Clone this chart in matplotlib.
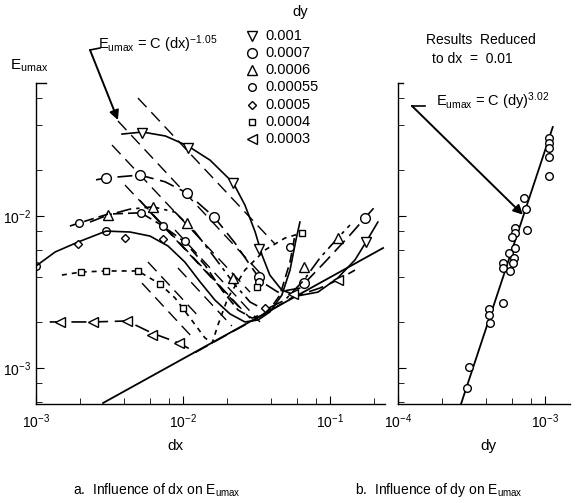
import matplotlib
matplotlib.use('Agg')
import matplotlib.pyplot as plt
from matplotlib.lines import Line2D
from matplotlib.ticker import LogLocator, NullFormatter

plt.rcParams['font.family'] = ['Liberation Sans', 'DejaVu Sans']
plt.rcParams['mathtext.fontset'] = 'custom'
plt.rcParams['mathtext.rm'] = 'Liberation Sans'
plt.rcParams['mathtext.default'] = 'regular'

W, H = 578, 503

# ---- left panel data (dx, Eumax) ----
dy_labels = ['0.001', '0.0007', '0.0006', '0.00055', '0.0005', '0.0004', '0.0003']

# dy = 0.001  (down triangles, solid)
dx_m1 = [5.3e-3, 1.08e-2, 2.2e-2, 3.3e-2, 0.176]
e_m1 = [0.035, 0.028, 0.0165, 6.1e-3, 6.7e-3]
dx_c1 = [3.85e-3, 5.3e-3, 7.6e-3, 1.08e-2, 1.53e-2, 2.2e-2, 2.64e-2, 3.1e-2, 3.45e-2, 3.9e-2,
         4.7e-2, 6.0e-2, 8.3e-2, 0.113, 0.148, 0.176, 0.212]
e_c1 = [0.0346, 0.0357, 0.0336, 0.0289, 0.0233, 0.0165, 0.0118, 7.85e-3, 5.54e-3, 4.09e-3,
        3.26e-3, 2.98e-3, 3.16e-3, 3.91e-3, 5.14e-3, 6.74e-3, 9.13e-3]

# dy = 0.0007  (big circles, long dash)
dx_m2 = [3.0e-3, 5.09e-3, 1.06e-2, 1.63e-2, 3.29e-2, 6.65e-2, 0.173]
e_m2 = [0.0178, 0.0186, 0.0142, 9.85e-3, 3.97e-3, 3.62e-3, 9.7e-3]
dx_c2 = [2.56e-3, 3.0e-3, 5.09e-3, 7.55e-3, 1.06e-2, 1.63e-2, 2.26e-2, 2.86e-2, 3.45e-2,
         4.42e-2, 6.25e-2, 9.25e-2, 0.137, 0.173, 0.199]
e_c2 = [0.0173, 0.0178, 0.0186, 0.0168, 0.0142, 9.85e-3, 6.64e-3, 4.76e-3, 3.68e-3,
        3.16e-3, 3.36e-3, 4.98e-3, 7.5e-3, 9.7e-3, 0.0113]

# dy = 0.0006  (up triangles, dash-dot)
dx_m3 = [3.09e-3, 6.25e-3, 1.06e-2, 2.19e-2, 6.65e-2, 0.113]
e_m3 = [0.01015, 0.0115, 8.99e-3, 3.91e-3, 4.62e-3, 7.16e-3]
dx_c3 = [2.33e-3, 3.09e-3, 4.36e-3, 6.25e-3, 8.83e-3, 1.21e-2, 1.65e-2, 2.26e-2, 2.86e-2,
         3.61e-2, 4.94e-2, 6.65e-2, 8.55e-2, 0.113, 0.137]
e_c3 = [9.13e-3, 0.01015, 0.0111, 0.0115, 0.0106, 7.85e-3, 5.3e-3, 3.52e-3, 2.72e-3,
        2.41e-3, 2.8e-3, 3.79e-3, 5.3e-3, 7.16e-3, 8.73e-3]

# dy = 0.00055  (small circles, dashed)
dx_m4 = [1.0e-3, 1.96e-3, 3.0e-3, 5.17e-3, 7.31e-3, 1.03e-2, 3.29e-2, 5.35e-2]
e_m4 = [4.69e-3, 8.99e-3, 7.96e-3, 0.0105, 8.59e-3, 6.85e-3, 3.68e-3, 6.25e-3]
dx_c4 = [1.7e-3, 1.96e-3, 3.09e-3, 5.17e-3, 7.31e-3, 1.03e-2, 1.41e-2, 1.84e-2, 2.37e-2,
         2.95e-2, 3.79e-2, 4.57e-2, 5.35e-2, 5.78e-2]
e_c4 = [8.59e-3, 8.99e-3, 0.0103, 0.0105, 8.59e-3, 6.74e-3, 4.76e-3, 3.26e-3, 2.41e-3,
        2.13e-3, 2.34e-3, 3.02e-3, 4.98e-3, 7.5e-3]

# dy = 0.0005  (diamonds, solid)
dx_m5 = [1.93e-3, 4.03e-3, 7.31e-3, 3.61e-2]
e_m5 = [6.54e-3, 7.16e-3, 7.06e-3, 2.48e-3]
dx_c5 = [1.0e-3, 1.35e-3, 1.93e-3, 3.0e-3, 4.36e-3, 5.97e-3, 7.91e-3, 1.03e-2, 1.31e-2,
         1.65e-2, 2.09e-2, 2.64e-2, 3.24e-2, 3.91e-2, 4.71e-2, 5.35e-2, 5.87e-2, 6.25e-2]
e_c5 = [4.69e-3, 5.8e-3, 6.74e-3, 7.96e-3, 7.85e-3, 7.38e-3, 6.35e-3, 4.98e-3, 3.68e-3,
        2.8e-3, 2.27e-3, 2.01e-3, 2.07e-3, 2.34e-3, 3.02e-3, 4.41e-3, 6.95e-3, 9.13e-3]

# dy = 0.0004  (squares, short dash)
dx_m6 = [2.02e-3, 3.0e-3, 4.94e-3, 6.98e-3, 1.0e-2, 3.19e-2, 6.45e-2]
e_m6 = [4.28e-3, 4.35e-3, 4.35e-3, 3.57e-3, 2.48e-3, 3.41e-3, 7.73e-3]
dx_c6 = [1.5e-3, 2.02e-3, 3.0e-3, 4.94e-3, 6.98e-3, 8.83e-3, 1.12e-2, 1.41e-2, 1.58e-2,
         1.73e-2, 2.02e-2, 2.64e-2, 3.61e-2, 4.94e-2, 6.45e-2]
e_c6 = [4.09e-3, 4.28e-3, 4.35e-3, 4.35e-3, 3.57e-3, 2.89e-3, 2.13e-3, 1.58e-3, 1.46e-3,
        1.92e-3, 2.89e-3, 4.41e-3, 5.97e-3, 7.16e-3, 7.73e-3]

# dy = 0.0003  (left triangles, dashed)
dx_m7 = [1.46e-3, 2.44e-3, 4.16e-3, 6.15e-3, 9.4e-3, 5.6e-2, 0.113]
e_m7 = [2.01e-3, 2.01e-3, 2.04e-3, 1.65e-3, 1.46e-3, 3.07e-3, 3.79e-3]
dx_c7 = [1.24e-3, 1.46e-3, 2.44e-3, 4.16e-3, 6.15e-3, 9.4e-3, 1.22e-2, 2.09e-2, 3.61e-2,
         5.6e-2, 8.55e-2, 0.113, 0.148]
e_c7 = [2.01e-3, 2.01e-3, 2.01e-3, 2.04e-3, 1.7e-3, 1.46e-3, 1.27e-3, 1.7e-3, 2.27e-3,
        2.93e-3, 3.36e-3, 3.79e-3, 4.41e-3]

# lines E = C dx^-1.05 (start / end points)
slope_dx0 = [4.94e-3, 3.61e-3, 3.29e-3, 4.03e-3, 5.09e-3, 5.97e-3, 8.83e-3, 5.78e-3, 5.26e-3, 9.25e-3]
slope_e0 = [0.0597, 0.0422, 0.0293, 0.016, 0.0127, 0.0106, 8.09e-3, 4.98e-3, 3.62e-3, 4.55e-3]
slope_dx1 = [4.23e-2, 3.45e-2, 2.86e-2, 2.64e-2, 2.86e-2, 2.44e-2, 3.34e-2, 1.31e-2, 1.12e-2, 2.15e-2]
slope_e1 = [6.54e-3, 4.09e-3, 3.16e-3, 2.3e-3, 2.13e-3, 2.48e-3, 2.01e-3, 2.13e-3, 1.65e-3, 1.89e-3]

# lower envelope
env_dx = [2.86e-3, 0.23]
env_e = [5.89e-4, 6.16e-3]

# ---- right panel data (dy, Eumax) reduced to dx = 0.01 ----
dy_pts = [1.06e-3, 1.06e-3, 1.06e-3, 1.06e-3, 1.07e-3, 7.2e-4, 7.43e-4, 6.25e-4, 6.25e-4, 7.55e-4,
          5.97e-4, 6.25e-4, 5.69e-4, 6.16e-4, 5.18e-4, 6.06e-4, 5.18e-4, 5.78e-4, 5.18e-4,
          4.16e-4, 4.16e-4, 4.23e-4, 3.04e-4, 2.95e-4]
e_pts = [0.0326, 0.0302, 0.028, 0.0244, 0.0183, 0.0131, 0.0111, 8.34e-3, 7.73e-3, 8.09e-3,
         7.27e-3, 6.16e-3, 5.71e-3, 5.3e-3, 4.91e-3, 4.91e-3, 4.55e-3, 4.35e-3, 2.68e-3,
         2.44e-3, 2.23e-3, 1.98e-3, 1.02e-3, 7.38e-4]
fit_dy = [2.68e-4, 1.13e-3]
fit_e = [5.78e-4, 0.0385]

fig = plt.figure(figsize=(W / 100, H / 100), dpi=100)
ax = fig.add_axes([36 / W, 99 / H, 349 / W, 321 / H])
ax2 = fig.add_axes([398 / W, 99 / H, 172 / W, 321 / H])


def style_axis(a):
    a.set_xscale('log')
    a.set_yscale('log')
    for s in ['top', 'right']:
        a.spines[s].set_visible(False)
    a.spines['left'].set_linewidth(1.0)
    a.spines['bottom'].set_linewidth(1.0)
    a.tick_params(which='both', direction='in', top=False, right=False, labelsize=10)
    a.tick_params(which='major', length=6)
    a.tick_params(which='minor', length=4)
    a.xaxis.set_minor_locator(LogLocator(base=10, subs=(2, 4, 6, 8)))
    a.yaxis.set_minor_locator(LogLocator(base=10, subs=(2, 4, 6, 8)))
    a.xaxis.set_minor_formatter(NullFormatter())
    a.yaxis.set_minor_formatter(NullFormatter())
    a.plot([0, 0.03], [1, 1], transform=a.transAxes, color='black', lw=1.0, clip_on=False)


style_axis(ax)
style_axis(ax2)
ax.set_xlim(1e-3, 0.237)
ax.set_ylim(5.8e-4, 0.075)
ax2.set_xlim(1e-4, 1.48e-3)
ax2.set_ylim(5.8e-4, 0.075)
ax.set_xticks([1e-3, 1e-2, 1e-1])
ax.set_xticklabels(['$10^{-3}$', '$10^{-2}$', '$10^{-1}$'])
ax.set_yticks([1e-3, 1e-2])
ax.set_yticklabels(['$10^{-3}$', '$10^{-2}$'])
ax2.set_xticks([1e-4, 1e-3])
ax2.set_xticklabels(['$10^{-4}$', '$10^{-3}$'])
ax2.set_yticks([1e-3, 1e-2])
ax2.set_yticklabels([])
ax.tick_params(axis='x', pad=6)
ax2.tick_params(axis='x', pad=6)

lw = 1.2
# parallel slope lines
for i in range(len(slope_dx0)):
    ax.plot([slope_dx0[i], slope_dx1[i]], [slope_e0[i], slope_e1[i]], color='black', lw=1.0,
            linestyle=(0, (9, 5)))
ax.plot(env_dx, env_e, color='black', lw=1.3)

series = [
    (dx_c1, e_c1, dx_m1, e_m1, 'v', 6.5, '-'),
    (dx_c2, e_c2, dx_m2, e_m2, 'o', 7, (0, (9, 4))),
    (dx_c3, e_c3, dx_m3, e_m3, '^', 6.5, (0, (9, 3, 2, 3))),
    (dx_c4, e_c4, dx_m4, e_m4, 'o', 5.5, (0, (6, 3))),
    (dx_c5, e_c5, dx_m5, e_m5, 'D', 4.5, '-'),
    (dx_c6, e_c6, dx_m6, e_m6, 's', 5, (0, (3, 3))),
    (dx_c7, e_c7, dx_m7, e_m7, '<', 6.5, (0, (9, 4))),
]
for cx, cy, mx, my, mk, ms, ls in series:
    ax.plot(cx, cy, color='black', lw=lw, linestyle=ls)
    ax.plot(mx, my, linestyle='none', marker=mk, ms=ms, mfc='white', mec='black', mew=1.0)

# legend drawn as figure text
leg_rows = [36, 53, 70, 87, 105, 122, 139]
leg_mk = ['v', 'o', '^', 'o', 'D', 's', '<']
leg_ms = [6.5, 7, 6.5, 5.5, 4.5, 5, 6.5]
for row, mk, ms, lab in zip(leg_rows, leg_mk, leg_ms, dy_labels):
    fig.add_artist(Line2D([252 / W], [1 - row / H], marker=mk, ms=ms, mfc='white', mec='black',
                          mew=1.0, linestyle='none'))
    fig.text(265 / W, 1 - row / H, lab, fontsize=10.5, va='center', ha='left')
fig.text(300 / W, 1 - 12 / H, 'dy', fontsize=10.5, va='center', ha='center')

# equation + arrow (left)
fig.text(98 / W, 1 - 44 / H, r'E$_{umax}$ = C (dx)$^{-1.05}$', fontsize=10.5, va='center', ha='left')
fig.add_artist(Line2D([90 / W, 100 / W], [1 - 50 / H, 1 - 48 / H], color='black', lw=1.2))
ax.annotate('', xy=(3.61e-3, 0.0428), xycoords='data', xytext=(90, H - 50),
            textcoords='figure pixels',
            arrowprops=dict(arrowstyle='-|>', color='black', lw=1.4, mutation_scale=14,
                            shrinkA=0, shrinkB=0))

# right panel
ax2.plot(fit_dy, fit_e, color='black', lw=1.3)
ax2.plot(dy_pts, e_pts, linestyle='none', marker='o', ms=5.5, mfc='white', mec='black', mew=1.0)
fig.text(481 / W, 1 - 40 / H, 'Results  Reduced', fontsize=10, ha='center', va='center')
fig.text(472 / W, 1 - 59 / H, 'to dx  =  0.01', fontsize=10, ha='center', va='center')
fig.text(436 / W, 1 - 101 / H, r'E$_{umax}$ = C (dy)$^{3.02}$', fontsize=10.5, ha='left', va='center')
fig.add_artist(Line2D([412 / W, 425 / W], [1 - 106 / H, 1 - 106 / H], color='black', lw=1.2))
ax2.annotate('', xy=(7.08e-4, 0.0102), xycoords='data', xytext=(412, H - 106),
             textcoords='figure pixels',
             arrowprops=dict(arrowstyle='-|>', color='black', lw=1.4, mutation_scale=14,
                             shrinkA=0, shrinkB=0))

# labels
fig.text(10 / W, 1 - 66 / H, r'E$_{umax}$', fontsize=11, ha='left', va='center')
fig.text(175 / W, 1 - 446 / H, 'dx', fontsize=11, ha='center', va='center')
fig.text(488 / W, 1 - 446 / H, 'dy', fontsize=11, ha='center', va='center')
fig.text(73 / W, 1 - 490 / H, r'a.  Influence of dx on E$_{umax}$', fontsize=10, ha='left', va='center')
fig.text(355 / W, 1 - 490 / H, r'b.  Influence of dy on E$_{umax}$', fontsize=10, ha='left', va='center')

fig.savefig('out.png', dpi=100)
